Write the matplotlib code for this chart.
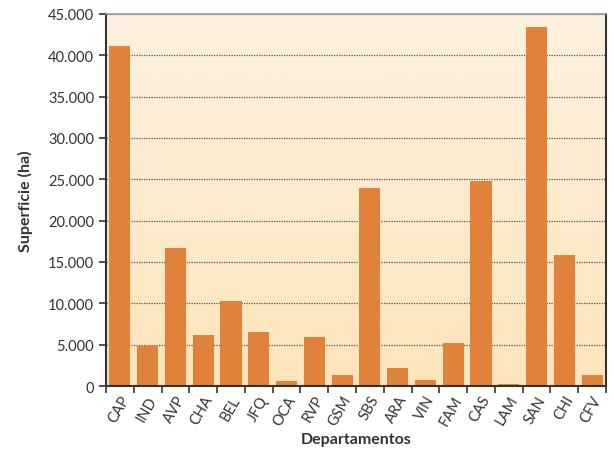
import numpy as np
import matplotlib
matplotlib.use("Agg")
import matplotlib.pyplot as plt
from matplotlib.colors import LinearSegmentedColormap
from matplotlib.ticker import FuncFormatter

plt.rcParams['font.family'] = ['Lato', 'DejaVu Sans']

departamentos = ["CAP", "IND", "AVP", "CHA", "BEL", "JFQ", "OCA", "RVP", "GSM",
                 "SBS", "ARA", "VIN", "FAM", "CAS", "LAM", "SAN", "CHI", "CFV"]
superficie = [41150, 4800, 16750, 6150, 10250, 6500, 600, 5900, 1300,
              23950, 2150, 700, 5200, 24800, 300, 43450, 15900, 1300]

fig = plt.figure(figsize=(6.14, 4.52), dpi=100)
ax = fig.add_axes([0.1726, 0.1438, 0.8144, 0.8232])

x = np.arange(len(departamentos))
ymax = 45000

# fondo degradado
grad = LinearSegmentedColormap.from_list("fondo", ["#fde5bb", "#fdf1e0"])
ax.imshow(np.linspace(0, 1, 256).reshape(-1, 1), cmap=grad, origin="lower",
          aspect="auto", extent=(-0.5, len(x) - 0.5, 0, ymax), zorder=0)

ax.set_axisbelow(True)
ax.yaxis.grid(True, linestyle=(0, (1, 1)), color="#555555", linewidth=0.9)
ax.bar(x, superficie, width=0.76, color="#e0823a", zorder=2)

ax.set_xlim(-0.5, len(x) - 0.5)
ax.set_ylim(0, ymax)
ax.set_yticks(np.arange(0, ymax + 1, 5000))
ax.yaxis.set_major_formatter(FuncFormatter(lambda v, p: f"{int(v):,}".replace(",", ".")))

ax.set_xticks(x)
ax.set_xticklabels(departamentos, rotation=60, ha="right", rotation_mode="anchor",
                   fontsize=10.5, color="#333333")
ax.tick_params(axis="x", length=0, pad=5)
ax.set_xticks(np.arange(-0.5, len(x), 1.0), minor=True)
ax.tick_params(axis="x", which="minor", length=5, width=1.2, color="#333333")
ax.tick_params(axis="y", length=5, width=1.2, color="#333333", labelsize=10.5,
               labelcolor="#333333")

for s in ["left", "bottom", "right"]:
    ax.spines[s].set_color("#333333")
    ax.spines[s].set_linewidth(1.5)
ax.spines["top"].set_color("#999999")
ax.spines["top"].set_linewidth(1.2)

ax.set_xlabel("Departamentos", fontsize=11.5, fontweight="bold", color="#333333", labelpad=3)
ax.set_ylabel("Superficie (ha)", fontsize=11.5, fontweight="bold", color="#333333", labelpad=11)

fig.savefig("out.png", dpi=100)
